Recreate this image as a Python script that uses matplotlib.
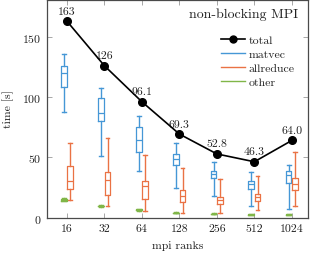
import numpy as np
import matplotlib
matplotlib.use('Agg')
import matplotlib.pyplot as plt
from matplotlib.lines import Line2D

plt.rcParams['font.family'] = ['cmr10', 'DejaVu Serif']
plt.rcParams['axes.formatter.use_mathtext'] = True
plt.rcParams['mathtext.fontset'] = 'cm'

ranks = [16, 32, 64, 128, 256, 512, 1024]
total = [163, 126, 96.1, 69.3, 52.8, 46.3, 64.0]
total_labels = ['163', '126', '96.1', '69.3', '52.8', '46.3', '64.0']

# box stats: whisker low, q1, median, q3, whisker high
matvec_lo = [88, 51.4, 39, 24.5, 17.8, 9.5, 7.2]
matvec_q1 = [108, 80, 54.5, 43.9, 33, 24, 28.7]
matvec_med = [119.7, 86.4, 64.7, 48.9, 35.8, 27.5, 35]
matvec_q3 = [126, 99, 75.3, 53, 38.6, 30.3, 38.7]
matvec_hi = [135.6, 107.8, 84.5, 62, 46, 37.8, 44]

allred_lo = [14.2, 9.5, 5.3, 3.6, 3.6, 6.4, 9.5]
allred_q1 = [23.7, 18.7, 15.3, 12.8, 11.1, 14, 23]
allred_med = [30.6, 31.4, 25.8, 17.5, 14.7, 16.7, 27.5]
allred_q3 = [42.5, 37.8, 30, 22.5, 17, 19.5, 32.8]
allred_hi = [62, 66, 51.7, 41, 32, 34.5, 54.5]

other_lo = [13.5, 9.0, 5.8, 3.4, 2.6, 2.2, 2.2]
other_q1 = [14.0, 9.3, 6.1, 3.7, 2.8, 2.4, 2.4]
other_med = [14.5, 9.5, 6.4, 3.9, 3.0, 2.5, 2.5]
other_q3 = [15.0, 9.8, 6.7, 4.1, 3.2, 2.7, 2.7]
other_hi = [16.0, 10.0, 7.0, 4.3, 3.4, 2.9, 2.9]

blue = '#4597d6'
orange = '#ea7244'
green = '#80b648'
frame = '#4a4a4a'


def stats(lo, q1, med, q3, hi):
    return [dict(whislo=a, q1=b, med=c, q3=d, whishi=e, fliers=[])
            for a, b, c, d, e in zip(lo, q1, med, q3, hi)]


fig = plt.figure(figsize=(3.11, 2.55), dpi=100)
ax = fig.add_axes([0.151, 0.143, 0.838, 0.855])

x = np.log2(ranks)
off = 0.085
bw = 0.15


def draw(st, pos, col):
    ax.bxp(st, positions=pos, widths=bw, capwidths=0.1, showfliers=False,
           boxprops=dict(color=col, linewidth=0.9),
           whiskerprops=dict(color=col, linewidth=1.0),
           capprops=dict(color=col, linewidth=1.0),
           medianprops=dict(color=col, linewidth=0.9),
           manage_ticks=False)


draw(stats(matvec_lo, matvec_q1, matvec_med, matvec_q3, matvec_hi), x - off, blue)
draw(stats(allred_lo, allred_q1, allred_med, allred_q3, allred_hi), x + off, orange)
draw(stats(other_lo, other_q1, other_med, other_q3, other_hi), x - off, green)

ax.plot(x, total, color='black', lw=1.2, marker='o', ms=5.5, zorder=5)
for xi, yi, s in zip(x, total, total_labels):
    ax.annotate(s, (xi, yi), xytext=(0, 4), textcoords='offset points',
                ha='center', va='bottom', fontsize=8.5, color='#222222')

ax.set_xlim(3.467, 10.42)
ax.set_ylim(0, 181)
ax.set_xticks(x)
ax.set_xticklabels([str(r) for r in ranks])
ax.set_yticks([0, 50, 100, 150])
ax.tick_params(direction='in', length=3.5, width=0.6, color='#999999',
               top=True, right=True, labelsize=8.5, labelcolor='#222222', pad=4)
for sp in ax.spines.values():
    sp.set_color(frame)
    sp.set_linewidth(0.9)

ax.set_xlabel('mpi ranks', fontsize=8.5, color='#222222', labelpad=5)
ax.set_ylabel('time [s]', fontsize=8.5, color='#222222', labelpad=6)

ax.text(0.965, 0.905, 'non-blocking MPI', transform=ax.transAxes,
        ha='right', va='bottom', fontsize=10, color='#222222')

handles = [
    Line2D([], [], color='black', lw=1.2, marker='o', ms=5),
    Line2D([], [], color=blue, lw=1.0),
    Line2D([], [], color=orange, lw=1.0),
    Line2D([], [], color=green, lw=1.0),
]
ax.legend(handles, ['total', 'matvec', 'allreduce', 'other'],
          loc='upper right', bbox_to_anchor=(0.982, 0.875), frameon=False,
          fontsize=8.5, handlelength=2.0, handletextpad=0.3,
          labelspacing=0.3, borderpad=0.2, labelcolor='#222222')

fig.savefig('out.png', dpi=100)
